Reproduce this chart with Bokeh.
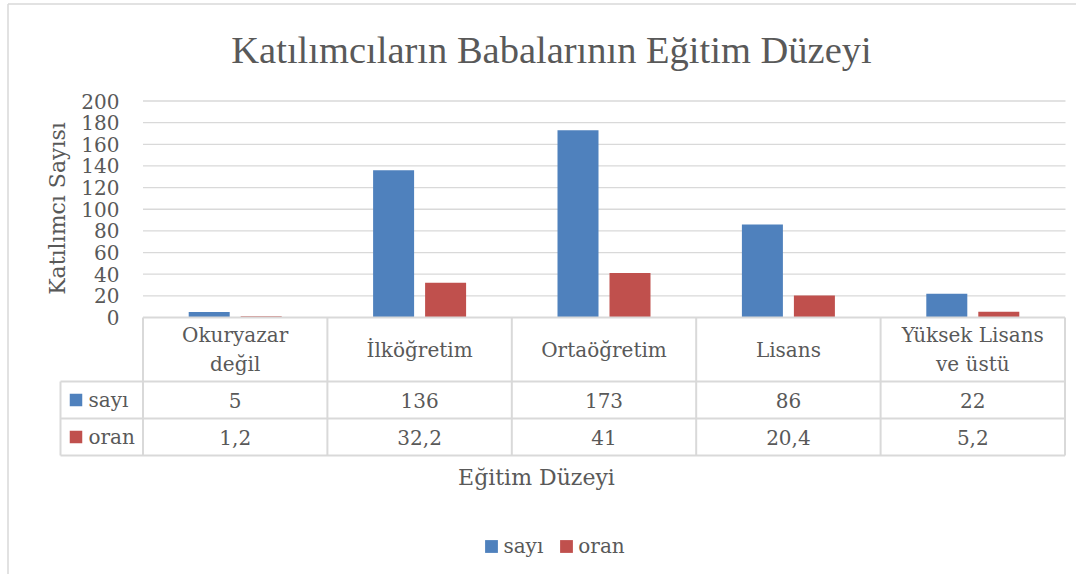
import math
from bokeh.plotting import figure
from bokeh.models import ColumnDataSource, Range1d, Legend, LegendItem
from bokeh.core.properties import value
from bokeh.transform import dodge
from bokeh.embed import file_html
from bokeh.resources import INLINE

# ---------------- data ----------------
title_text = "Katılımcıların Babalarının Eğitim Düzeyi"
categories = ["Okuryazar\ndeğil", "İlköğretim", "Ortaöğretim", "Lisans", "Yüksek Lisans\nve üstü"]
series_names = ["sayı", "oran"]
sayi = [5, 136, 173, 86, 22]
oran = [1.2, 32.2, 41, 20.4, 5.2]
y_ticks = [0, 20, 40, 60, 80, 100, 120, 140, 160, 180, 200]
x_title = "Eğitim Düzeyi"
y_title = "Katılımcı Sayısı"

# ---------------- layout (picture pixels) ----------------
W, H = 1076, 574
CAT_LEFT, CAT_W = 142.5, 184.4
Y0_PX, K = 317.0, 216.5 / 200.0
GRID_RIGHT = 1065.0
TABLE_RIGHT = CAT_LEFT + CAT_W * len(categories)
LEG_COL_LEFT = 60.0
ROW_HDR = (317.0, 381.0)
ROW1 = (381.0, 418.0)
ROW2 = (418.0, 455.0)

BLUE = "#4f81bd"
RED = "#c0504d"
TXT = "#595959"
LINE = "#d9d9d9"
BODY_FONT = value("DejaVu Serif")


def X(px):
    return (px - CAT_LEFT) / CAT_W


def Y(py):
    return (Y0_PX - py) / K


p = figure(width=W, height=H, output_backend="svg", toolbar_location=None,
           x_axis_type=None, y_axis_type=None, min_border=0,
           x_range=Range1d(X(0), X(W)),
           y_range=Range1d(Y(H), Y(0)))
p.outline_line_color = None
p.background_fill_color = "white"
p.border_fill_color = "white"

# chart border (left and top visible)
p.segment(x0=[X(7.5), X(7.5)], y0=[Y(3.5), Y(3.5)],
          x1=[X(7.5), X(W)], y1=[Y(H), Y(3.5)],
          line_color=LINE, line_width=1.5)

# gridlines
gt = y_ticks[1:]
p.segment(x0=[X(CAT_LEFT)] * len(gt), x1=[X(GRID_RIGHT)] * len(gt), y0=gt, y1=gt,
          line_color=LINE, line_width=1.3)

# bars
xc = [i + 0.5 for i in range(len(categories))]
src = ColumnDataSource(dict(xc=xc, cat=categories, sayi=sayi, oran=oran))
off = 26.0 / CAT_W
bw = 41.0 / CAT_W
r1 = p.vbar(x=dodge("xc", -off, range=p.x_range), top="sayi", bottom=0, width=bw,
            source=src, fill_color=BLUE, line_color=None)
r2 = p.vbar(x=dodge("xc", off, range=p.x_range), top="oran", bottom=0, width=bw,
            source=src, fill_color=RED, line_color=None)

# y tick labels
p.text(x=[X(119)] * len(y_ticks), y=y_ticks, text=[str(t) for t in y_ticks],
       text_align="right", text_baseline="middle", text_font=BODY_FONT,
       text_font_size="20px", text_color=TXT)

# y axis title
p.text(x=[X(57)], y=[Y(208)], text=[y_title], angle=math.pi / 2,
       text_align="center", text_baseline="middle", text_font=BODY_FONT,
       text_font_size="22px", text_color=TXT)

# title
p.text(x=[X(551)], y=[Y(49)], text=[title_text], text_align="center",
       text_baseline="middle", text_font=value("Liberation Serif"),
       text_font_size="38.5px", text_color=TXT)

# ---- data table ----
n = len(categories)
hx0 = [X(CAT_LEFT), X(LEG_COL_LEFT), X(LEG_COL_LEFT), X(LEG_COL_LEFT)]
hy = [Y(ROW_HDR[0]), Y(ROW1[0]), Y(ROW2[0]), Y(ROW2[1])]
p.segment(x0=hx0, x1=[X(TABLE_RIGHT)] * 4, y0=hy, y1=hy, line_color=LINE, line_width=2)
vx = [X(CAT_LEFT + CAT_W * k) for k in range(n + 1)] + [X(LEG_COL_LEFT)]
vy0 = [Y(ROW_HDR[0])] * (n + 1) + [Y(ROW1[0])]
p.segment(x0=vx, x1=vx, y0=vy0, y1=[Y(ROW2[1])] * (n + 2), line_color=LINE, line_width=2)

p.text(x="xc", y=Y(sum(ROW_HDR) / 2), text="cat", source=src, text_align="center",
       text_baseline="middle", text_font=BODY_FONT, text_font_size="20px",
       text_color=TXT, text_line_height=1.2)


def fmt(v):
    return f"{v:g}".replace(".", ",")


p.text(x=xc, y=[Y(sum(ROW1) / 2)] * n, text=[fmt(v) for v in sayi], text_align="center",
       text_baseline="middle", text_font=BODY_FONT, text_font_size="20px", text_color=TXT)
p.text(x=xc, y=[Y(sum(ROW2) / 2)] * n, text=[fmt(v) for v in oran], text_align="center",
       text_baseline="middle", text_font=BODY_FONT, text_font_size="20px", text_color=TXT)

p.rect(x=[X(75.5)] * 2, y=[Y(sum(ROW1) / 2), Y(sum(ROW2) / 2)], width=12.5, height=12.5,
       width_units="screen", height_units="screen", fill_color=[BLUE, RED], line_color=None)
p.text(x=[X(88)] * 2, y=[Y(sum(ROW1) / 2), Y(sum(ROW2) / 2)], text=series_names,
       text_align="left", text_baseline="middle", text_font=BODY_FONT,
       text_font_size="20px", text_color=TXT)

# x axis title
p.text(x=[X(536)], y=[Y(477)], text=[x_title], text_align="center",
       text_baseline="middle", text_font=BODY_FONT, text_font_size="22px",
       text_color=TXT)

# legend
legend = Legend(items=[LegendItem(label=series_names[0], renderers=[r1]),
                       LegendItem(label=series_names[1], renderers=[r2])],
                orientation="horizontal", location=(483.4, 16.5),
                glyph_width=16, glyph_height=16, label_standoff=4, spacing=15,
                padding=0, margin=0, border_line_color=None, background_fill_alpha=0,
                label_text_font="DejaVu Serif", label_text_font_size="20px",
                label_text_color=TXT)
p.add_layout(legend)

open("out.html", "w").write(file_html(p, INLINE))
